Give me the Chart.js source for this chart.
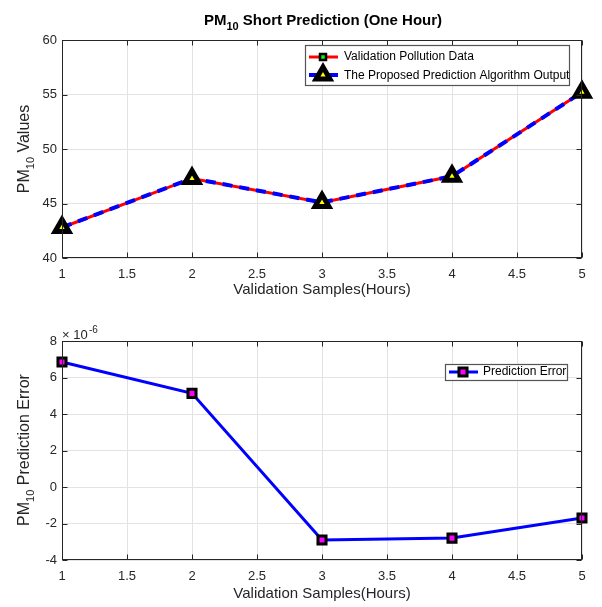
<!DOCTYPE html>
<html>
<head>
<meta charset="utf-8">
<script src="https://cdn.jsdelivr.net/npm/chart.js@4.4.1/dist/chart.umd.min.js"></script>
<style>
    body { margin: 0; background: #fff; }
    canvas { position: absolute; left: 0; }
</style>
</head>
<body>
<canvas id="topChart" width="602" height="305" style="top:0"></canvas>
<canvas id="bottomChart" width="602" height="302" style="top:305px"></canvas>
<script>
// data
const hours = [1, 2, 3, 4, 5];
const validationData = [42.8, 47.3, 45.1, 47.5, 55.2];
const predictedOutput = [42.8, 47.3, 45.1, 47.5, 55.2];
const predictionError = [6.85, 5.13, -2.9, -2.8, -1.7]; // in units of 10^-6
const errorExponent = '-6';
const xTickStep = 0.5;

const FONT = "'Liberation Sans', Arial, Helvetica, sans-serif";
const TXT = '#262626';

function pts(ys) {
    return hours.map((h, i) => ({ x: h, y: ys[i] }));
}

// draws text made of pieces (for sub/superscripts), centred at x,y
function richText(ctx, parts, x, y, rotate) {
    let w = 0;
    parts.forEach(p => { ctx.font = p[1]; w += ctx.measureText(p[0]).width; });
    ctx.save();
    ctx.translate(x, y);
    if (rotate) ctx.rotate(-Math.PI / 2);
    ctx.textBaseline = 'middle';
    ctx.textAlign = 'left';
    let cx = -w / 2;
    parts.forEach(p => {
        ctx.font = p[1];
        ctx.fillText(p[0], cx, p[2] || 0);
        cx += ctx.measureText(p[0]).width;
    });
    ctx.restore();
}

// box round the axes with inward ticks, plus the extras of each chart
function makeFrame(extra) {
    return {
        id: 'frame',
        afterDraw(chart) {
            const { ctx, chartArea: a, scales } = chart;
            ctx.save();
            ctx.strokeStyle = TXT;
            ctx.lineWidth = 1;
            const l = Math.round(a.left) + 0.5, r = Math.round(a.right) - 0.5;
            const t = Math.round(a.top) + 0.5, b = Math.round(a.bottom) - 0.5;
            ctx.strokeRect(l, t, r - l, b - t);
            ctx.beginPath();
            scales.x.ticks.forEach(tk => {
                const px = Math.round(scales.x.getPixelForValue(tk.value)) + 0.5;
                ctx.moveTo(px, b); ctx.lineTo(px, b - 5);
                ctx.moveTo(px, t); ctx.lineTo(px, t + 5);
            });
            scales.y.ticks.forEach(tk => {
                const py = Math.round(scales.y.getPixelForValue(tk.value)) + 0.5;
                ctx.moveTo(l, py); ctx.lineTo(l + 5, py);
                ctx.moveTo(r, py); ctx.lineTo(r - 5, py);
            });
            ctx.stroke();
            ctx.fillStyle = TXT;
            extra(ctx, chart);
            ctx.restore();
        }
    };
}

function xScale(height) {
    return {
        type: 'linear', min: 1, max: 5,
        ticks: {
            stepSize: xTickStep, color: TXT, padding: 9, font: { family: FONT, size: 13 },
            callback: v => String(v)
        },
        grid: { color: '#e3e3e3', drawTicks: false },
        border: { display: false },
        title: {
            display: true, text: 'Validation Samples(Hours)', color: TXT,
            font: { family: FONT, size: 15, lineHeight: 1 }, padding: 0
        },
        afterFit: s => { s.height = height; }
    };
}

function yScale(min, max, step) {
    return {
        min: min, max: max,
        ticks: {
            stepSize: step, color: TXT, padding: 5, font: { family: FONT, size: 13 },
            callback: v => String(v)
        },
        grid: { color: '#e3e3e3', drawTicks: false },
        border: { display: false },
        afterFit: s => { s.width = 62; }
    };
}

const baseOpts = {
    responsive: false,
    animation: false,
    plugins: { legend: { display: false }, tooltip: { enabled: false } }
};

// top chart
new Chart(document.getElementById('topChart'), {
    type: 'line',
    data: {
        datasets: [
            {
                label: 'The Proposed Prediction Algorithm Output',
                data: pts(predictedOutput),
                borderColor: '#0000ff',
                borderWidth: 4,
                borderDash: [10, 7],
                pointStyle: 'triangle',
                pointRadius: 8,
                pointBackgroundColor: '#ffff00',
                pointBorderColor: '#000000',
                pointBorderWidth: 5,
                tension: 0,
                clip: false
            },
            {
                label: 'Validation Pollution Data',
                data: pts(validationData),
                borderColor: '#ff0000',
                borderWidth: 3,
                pointStyle: 'rect',
                pointRadius: 4,
                pointBackgroundColor: '#00ff00',
                pointBorderColor: '#000000',
                pointBorderWidth: 2.5,
                tension: 0,
                clip: false
            }
        ]
    },
    options: Object.assign({}, baseOpts, {
        layout: { padding: { left: 0, right: 20, top: 40, bottom: 8 } },
        scales: { x: xScale(39), y: yScale(40, 60, 5) }
    }),
    plugins: [makeFrame(function (ctx) {
        ctx.fillStyle = '#000';
        richText(ctx, [['PM', 'bold 15px ' + FONT], ['10', 'bold 11px ' + FONT, 6],
            [' Short Prediction (One Hour)', 'bold 15px ' + FONT]], 323, 21);
        ctx.fillStyle = TXT;
        richText(ctx, [['PM', '16px ' + FONT], ['10', '11px ' + FONT, 6],
            [' Values', '16px ' + FONT]], 25, 149, true);

        // legend
        ctx.fillStyle = '#fff';
        ctx.fillRect(305, 45, 264, 41);
        ctx.strokeStyle = '#555';
        ctx.lineWidth = 1.2;
        ctx.strokeRect(305.5, 45.5, 264, 40);

        ctx.lineWidth = 3;
        ctx.strokeStyle = '#ff0000';
        ctx.beginPath(); ctx.moveTo(309, 57); ctx.lineTo(338, 57); ctx.stroke();
        ctx.fillStyle = '#00ff00'; ctx.strokeStyle = '#000'; ctx.lineWidth = 2.5;
        ctx.fillRect(320, 54, 6, 6); ctx.strokeRect(320, 54, 6, 6);

        ctx.lineWidth = 4;
        ctx.strokeStyle = '#0000ff';
        ctx.beginPath(); ctx.moveTo(309, 75); ctx.lineTo(338, 75); ctx.stroke();
        ctx.fillStyle = '#ffff00'; ctx.strokeStyle = '#000'; ctx.lineWidth = 5;
        Chart.helpers.drawPoint(ctx, { pointStyle: 'triangle', radius: 8, rotation: 0, borderWidth: 5 }, 323, 75);

        ctx.fillStyle = '#000';
        ctx.font = '12px ' + FONT;
        ctx.textBaseline = 'middle';
        ctx.textAlign = 'left';
        ctx.fillText('Validation Pollution Data', 344, 57);
        ctx.fillText('The Proposed Prediction Algorithm Output', 344, 76);
    })]
});

// bottom chart
new Chart(document.getElementById('bottomChart'), {
    type: 'line',
    data: {
        datasets: [{
            label: 'Prediction Error',
            data: pts(predictionError),
            borderColor: '#0000ff',
            borderWidth: 3,
            pointStyle: 'rect',
            pointRadius: 5.7,
            pointBackgroundColor: '#ff00ff',
            pointBorderColor: '#000000',
            pointBorderWidth: 3,
            tension: 0,
            clip: false
        }]
    },
    options: Object.assign({}, baseOpts, {
        layout: { padding: { left: 0, right: 20, top: 36, bottom: 6 } },
        scales: { x: xScale(41), y: yScale(-4, 8, 2) }
    }),
    plugins: [makeFrame(function (ctx) {
        richText(ctx, [['PM', '16px ' + FONT], ['10', '11px ' + FONT, 6],
            [' Prediction Error', '16px ' + FONT]], 25, 145, true);
        ctx.font = '13px ' + FONT;
        ctx.textBaseline = 'middle';
        ctx.textAlign = 'left';
        ctx.fillText('\u00d7 10', 62, 30);
        ctx.font = '10px ' + FONT;
        ctx.fillText(errorExponent, 89, 25);

        // legend
        ctx.fillStyle = '#fff';
        ctx.fillRect(445, 59, 122, 16);
        ctx.strokeStyle = '#555';
        ctx.lineWidth = 1.2;
        ctx.strokeRect(445.5, 59.5, 122, 16);
        ctx.strokeStyle = '#0000ff';
        ctx.lineWidth = 3;
        ctx.beginPath(); ctx.moveTo(449, 67); ctx.lineTo(478, 67); ctx.stroke();
        ctx.fillStyle = '#ff00ff'; ctx.strokeStyle = '#000'; ctx.lineWidth = 3;
        Chart.helpers.drawPoint(ctx, { pointStyle: 'rect', radius: 5.7, rotation: 0, borderWidth: 3 }, 463, 67);
        ctx.fillStyle = '#000';
        ctx.font = '12px ' + FONT;
        ctx.fillText('Prediction Error', 483, 67);
    })]
});
</script>
</body>
</html>
